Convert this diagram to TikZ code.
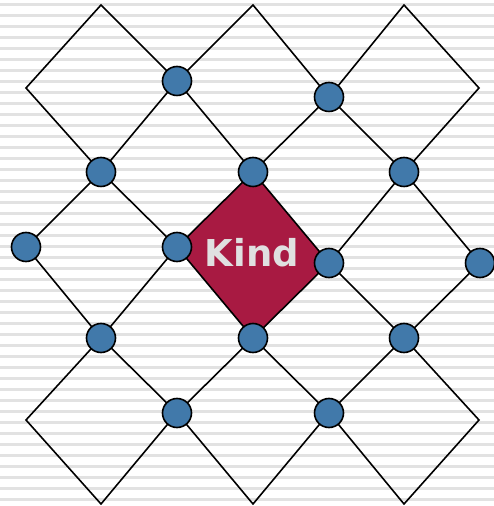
\documentclass[tikz,border=0pt]{standalone}
\usepackage{fontspec}
\newfontfamily\labelfont{DejaVu Sans}
\definecolor{stripecol}{RGB}{226,226,226}
\definecolor{kindred}{RGB}{168,26,66}
\definecolor{dotblue}{RGB}{65,121,170}
\definecolor{textgray}{RGB}{224,224,224}
\tikzset{
  edge/.style={draw=black, line width=1.6pt, line join=miter},
  dot/.style={circle, draw=black, line width=1.6pt, fill=dotblue, minimum size=29pt, inner sep=0pt},
}
\begin{document}
\begin{tikzpicture}[x=1pt,y=1pt]
\useasboundingbox (0,0) rectangle (494,506);
\fill[white] (0,0) rectangle (494,506);
\foreach \k in {0,...,45} {
  \fill[stripecol] (0,{503-11*\k}) rectangle (494,{500-11*\k});
}
% outer corner points
\coordinate (t1) at (101,501);
\coordinate (t2) at (253,501);
\coordinate (t3) at (404,501);
\coordinate (l1) at (26,418);
\coordinate (r1) at (479,418);
\coordinate (l3) at (26,86);
\coordinate (r3) at (479,86);
\coordinate (b1) at (101,2);
\coordinate (b2) at (253,2);
\coordinate (b3) at (404,2);
% circle positions
\coordinate (p1) at (177,425);
\coordinate (p2) at (329,409);
\coordinate (p3) at (101,334);
\coordinate (p4) at (253,334);
\coordinate (p5) at (404,334);
\coordinate (p6) at (26,259);
\coordinate (p7) at (177,259);
\coordinate (p8) at (329,243);
\coordinate (p9) at (480,243);
\coordinate (p10) at (101,168);
\coordinate (p11) at (253,168);
\coordinate (p12) at (404,168);
\coordinate (p13) at (177,93);
\coordinate (p14) at (329,93);
% central red diamond
\path[fill=kindred, edge] (p4) -- (p7) -- (p11) -- (p8) -- cycle;
\node[font=\labelfont\bfseries, text=textgray, scale=3.7] (kind) at (252,253) {Kind};
% diamonds
\draw[edge] (t1) -- (l1) -- (p3) -- (p1) -- cycle;
\draw[edge] (t2) -- (p1) -- (p4) -- (p2) -- cycle;
\draw[edge] (t3) -- (p2) -- (p5) -- (r1) -- cycle;
\draw[edge] (p3) -- (p6) -- (p10) -- (p7) -- cycle;
\draw[edge] (p5) -- (p8) -- (p12) -- (p9) -- cycle;
\draw[edge] (p10) -- (l3) -- (b1) -- (p13) -- cycle;
\draw[edge] (p11) -- (p13) -- (b2) -- (p14) -- cycle;
\draw[edge] (p12) -- (p14) -- (b3) -- (r3) -- cycle;
% circles
\foreach \i in {1,...,14} {
  \node[dot] (c\i) at (p\i) {};
}
\end{tikzpicture}
\end{document}
